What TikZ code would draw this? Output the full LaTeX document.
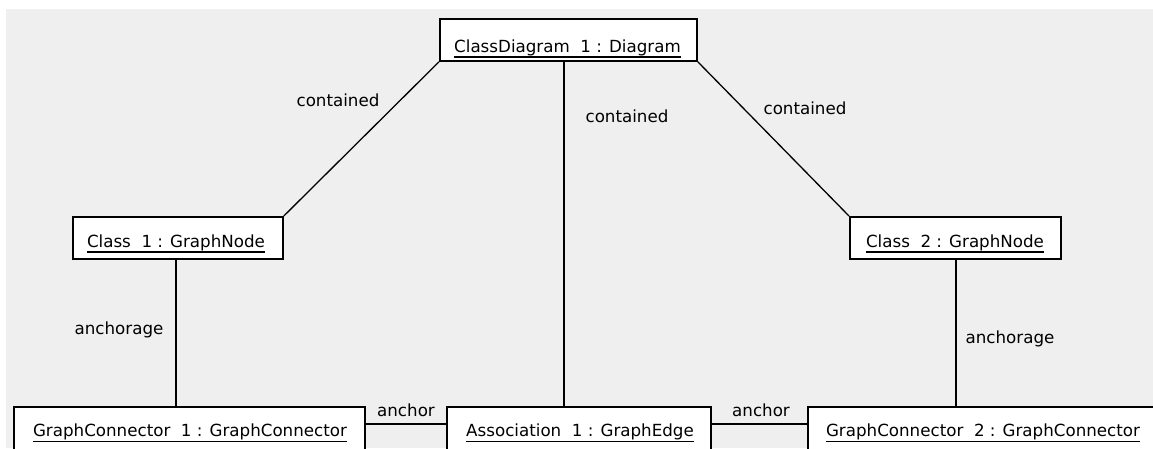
\documentclass[tikz,border=0pt]{standalone}
\usepackage{fontspec}
\setmainfont{DejaVu Sans}
\definecolor{bg}{HTML}{EFEFEF}
\begin{document}
\begin{tikzpicture}[x=1pt,y=-1pt,
  font=\fontsize{16.7}{20}\selectfont,
  obj/.style={draw=black, line width=1.8pt, fill=white, inner sep=0pt, anchor=north west},
  lbl/.style={inner sep=0pt, anchor=base},
  conn/.style={line width=1.3pt},
  uline/.style={line width=1.3pt}]
\useasboundingbox (0,0) rectangle (1153,448);
\fill[white] (0,0) rectangle (1153,448);
\fill[bg] (6,9) rectangle (1153,448);

% object boxes
\node[obj, minimum width=257pt, minimum height=42pt] (T) at (439,18) {};
\node[obj, minimum width=210pt, minimum height=42pt] (c1) at (72,216) {};
\node[obj, minimum width=211pt, minimum height=42pt] (c2) at (849,216) {};
\node[obj, minimum width=351pt, minimum height=46pt] (gc1) at (13,406) {};
\node[obj, minimum width=264pt, minimum height=46pt] (as) at (446,406) {};
\node[obj, minimum width=351pt, minimum height=46pt] (gc2) at (807,406) {};

% object names
\node[lbl] (tT) at (567.5,52) {ClassDiagram~~1 : Diagram};
\node[lbl] (tc1) at (176,247) {Class~~1 : GraphNode};
\node[lbl] (tc2) at (955,247) {Class~~2 : GraphNode};
\node[lbl] (tgc1) at (190,436.5) {GraphConnector~~1 : GraphConnector};
\node[lbl] (tas) at (580,436.5) {Association~~1 : GraphEdge};
\node[lbl] (tgc2) at (983,436.5) {GraphConnector~~2 : GraphConnector};
\foreach \n in {tT,tc1,tc2,tgc1,tas,tgc2}
  \draw[uline] ([yshift=-5pt]\n.base west) -- ([yshift=-5pt]\n.base east);

% connectors
\draw[conn] (T.south west) -- (c1.north east);
\draw[conn] (T.south east) -- (c2.north west);
\draw[conn] ([xshift=-4.5pt]T.south) -- ([xshift=-4.5pt]T.south |- as.north);
\draw[conn] ([xshift=-2pt]c1.south) -- ([xshift=-2pt]c1.south |- gc1.north);
\draw[conn] ([xshift=0.5pt]c2.south) -- ([xshift=0.5pt]c2.south |- gc2.north);
\draw[conn] ([yshift=-18pt]gc1.north east) -- ([yshift=-18pt]as.north west);
\draw[conn] ([yshift=-18pt]as.north east) -- ([yshift=-18pt]gc2.north west);

% labels
\node[lbl] (l1) at (338,106) {contained};
\node[lbl] (l2) at (627,122.5) {contained};
\node[lbl] (l3) at (805,114) {contained};
\node[lbl] (l4) at (119,334) {anchorage};
\node[lbl] (l5) at (1010,343) {anchorage};
\node[lbl] (l6) at (406,416) {anchor};
\node[lbl] (l7) at (761,416) {anchor};
\end{tikzpicture}
\end{document}
